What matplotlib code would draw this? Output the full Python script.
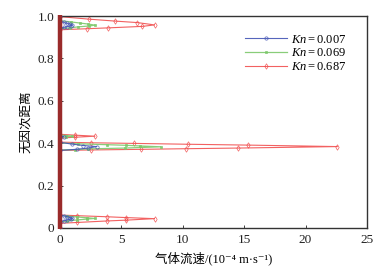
import numpy as np
import matplotlib
matplotlib.use("Agg")
import matplotlib.pyplot as plt

plt.rcParams['font.family'] = ['Liberation Serif', 'Noto Sans CJK SC', 'DejaVu Sans']
plt.rcParams['mathtext.fontset'] = 'custom'
plt.rcParams['mathtext.rm'] = 'Liberation Serif'
plt.rcParams['mathtext.it'] = 'Liberation Serif:italic'

labels = ['$Kn=0.007$', '$Kn=0.069$', '$Kn=0.687$']

# Kn = 0.007
y_blue = [0.0,
          0.030, 0.034, 0.038, 0.042, 0.045, 0.049, 0.053, 0.057, 0.060,
          0.366, 0.371, 0.377, 0.384, 0.389, 0.396, 0.404,
          0.428, 0.431, 0.434,
          0.942, 0.946, 0.950, 0.954, 0.957, 0.961, 0.965, 0.970, 0.975,
          1.0]
v_blue = [0.0,
          0, 0.3, 0.6, 0.9, 1.0, 0.85, 0.6, 0.3, 0,
          0, 1.35, 2.3, 3.0, 1.9, 0.95, 0,
          0, 0.3, 0,
          0, 0.3, 0.6, 0.9, 1.0, 0.85, 0.6, 0.3, 0,
          0.0]

# Kn = 0.069
y_green = [0.0,
           0.028, 0.033, 0.038, 0.042, 0.045, 0.048, 0.052, 0.056, 0.060,
           0.368, 0.370, 0.373, 0.377, 0.383, 0.387, 0.390, 0.393, 0.397, 0.401,
           0.427, 0.430, 0.433, 0.436, 0.439,
           0.940, 0.944, 0.949, 0.953, 0.957, 0.962, 0.967, 0.972, 0.978,
           1.0]
v_green = [0.0,
           0, 0.6, 1.4, 2.2, 2.85, 2.2, 1.4, 0.6, 0,
           0, 1.2, 2.3, 5.3, 8.2, 6.5, 5.4, 3.8, 1.5, 0,
           0, 0.5, 1.0, 0.5, 0,
           0, 0.8, 1.5, 2.4, 2.85, 2.3, 1.6, 0.9, 0,
           0.0]

# Kn = 0.687
y_red = [0.0,
         0.022, 0.026, 0.033, 0.037, 0.044, 0.049, 0.053, 0.058, 0.061,
         0.366, 0.368, 0.371, 0.374, 0.377, 0.384, 0.391, 0.395, 0.399, 0.402, 0.405,
         0.424, 0.428, 0.433, 0.438, 0.442,
         0.935, 0.940, 0.944, 0.951, 0.958, 0.969, 0.976, 0.985, 0.997,
         1.0]
v_red = [0.0,
         0, 1.4, 3.8, 5.4, 7.7, 5.4, 3.8, 1.4, 0,
         0, 2.5, 6.6, 10.3, 14.5, 22.6, 15.3, 10.4, 6.0, 2.5, 0,
         0, 1.2, 2.85, 1.2, 0,
         0, 2.2, 3.9, 6.7, 7.7, 6.3, 4.5, 2.4, 0,
         0.0]

wall_y = [-0.005, 1.005]
wall_v = [0.0, 0.0]

x_ticks = [0, 5, 10, 15, 20, 25]
y_ticks = [0, 0.2, 0.4, 0.6, 0.8, 1.0]
y_ticklabels = ['0', '0.2', '0.4', '0.6', '0.8', '1.0']

fig = plt.figure(figsize=(3.92, 2.76), dpi=100)
ax = fig.add_axes([0.153, 0.174, 0.783, 0.768])

hr, = ax.plot(v_red, y_red, color='#f04545', lw=0.8, alpha=0.85, marker='d',
              ms=2.8, mfc='none', mew=0.5, zorder=2, label=labels[2])
hg, = ax.plot(v_green, y_green, color='#7cc86a', lw=0.9, alpha=0.9, marker='s',
              ms=2.0, mew=0.5, zorder=3, label=labels[1])
hb, = ax.plot(v_blue, y_blue, color='#4455b5', lw=0.8, alpha=0.9, marker='o',
              ms=2.4, mfc='none', mew=0.5, zorder=4, label=labels[0])
ax.plot(wall_v, wall_y, color='#9a2b2b', lw=3.2, solid_capstyle='butt',
        zorder=5, clip_on=False)

ax.set_xlim(0, 25)
ax.set_ylim(0, 1.0)
ax.set_xticks(x_ticks)
ax.set_xticklabels([str(t) for t in x_ticks])
ax.set_yticks(y_ticks)
ax.set_yticklabels(y_ticklabels)
ax.tick_params(direction='in', length=2.5, width=0.6, labelsize=9.5,
               colors='#222222', pad=4)
for s in ax.spines.values():
    s.set_linewidth(1.0)
    s.set_color('#333333')

ax.set_xlabel('气体流速/(10⁻⁴ m·s⁻¹)', fontsize=9, labelpad=4,
              family=['Liberation Serif', 'Noto Sans CJK SC', 'DejaVu Sans'])
ax.set_ylabel('无因次距离', fontsize=9, labelpad=4,
              family=['Noto Sans CJK SC', 'DejaVu Sans'])

ax.legend(handles=[hb, hg, hr], loc='upper right', frameon=False, fontsize=9,
          handlelength=3.4, handletextpad=0.3, labelspacing=0.15,
          borderaxespad=0.5, bbox_to_anchor=(0.97, 0.97))

fig.savefig('out.png', dpi=100)
